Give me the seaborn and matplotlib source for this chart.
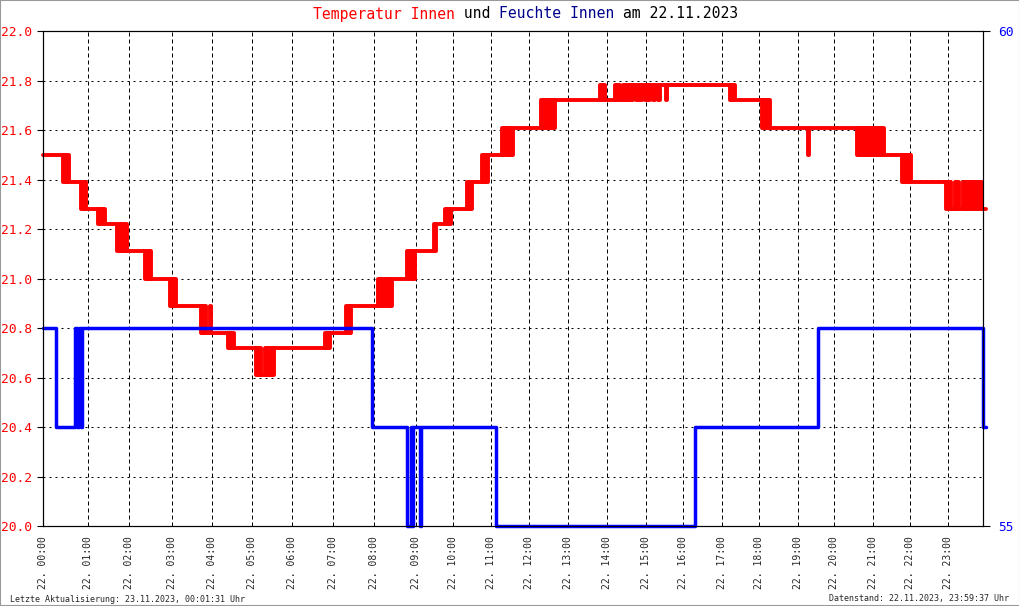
import matplotlib.pyplot as plt
import seaborn as sns
import numpy as np
import pandas as pd
from matplotlib.patches import Rectangle

# Messpunkt-Index (x) und Werte, Treppenfunktion (steps-post)
temp_idx = [0, 20, 21.5, 23, 24, 25.5,
            38, 39, 40.5, 41.5, 42.5,
            55, 56.5, 58, 60, 62,
            74, 76, 78, 79.5, 81, 83, 84,
            102, 104, 105.5, 107, 108,
            127, 129, 130.5, 132, 133,
            158, 159, 160.5, 161.5, 162.7, 167, 168.5,
            185, 186, 187.5, 189, 191,
            213, 214.5, 216, 217.5, 218.5, 222, 223, 225, 226.5, 228, 229.5, 231,
            282, 283.5, 285, 286, 287,
            303, 304.5, 306, 307, 308.5,
            335, 337, 339, 341, 343, 345, 347, 348.5, 349.5,
            364, 366, 368, 370, 372,
            391, 392, 393,
            402, 403.5, 405, 406.5, 408,
            424, 425.5, 427, 428, 429,
            439, 440.5, 442, 443.5, 445,
            459, 461, 463, 465, 467, 468.5, 470,
            498, 499.5, 501, 502.5, 503.5, 505, 507, 508.5, 509.5, 511, 512,
            557, 559, 560, 562,
            572, 573, 575, 577,
            580, 582, 583, 585, 587, 589, 590, 593, 595, 597, 599, 602, 604, 606,
            607, 610, 612, 615, 617, 623, 624.5,
            687, 688, 689.5, 690.5, 692,
            719, 720.5, 722, 723.5, 725, 726, 727,
            765, 766.5,
            814, 815.5, 817, 818.5, 820, 821, 823, 824.5, 826, 827.5, 829, 830,
            832, 834, 835.5, 837, 838.5, 840, 841,
            859, 860.5, 862, 863.5, 865, 866.5, 868,
            903, 904.5, 906, 907.5, 908.5, 912, 913, 914.5, 916, 920, 922, 923,
            925, 927, 929, 930.5, 932, 934, 936, 938, 939, 943]
temp_val = [21.50, 21.39, 21.50, 21.39, 21.50, 21.39,
            21.28, 21.39, 21.28, 21.39, 21.28,
            21.22, 21.28, 21.22, 21.28, 21.22,
            21.11, 21.22, 21.11, 21.22, 21.11, 21.22, 21.11,
            21.00, 21.11, 21.00, 21.11, 21.00,
            20.89, 21.00, 20.89, 21.00, 20.89,
            20.78, 20.89, 20.78, 20.89, 20.78, 20.89, 20.78,
            20.72, 20.78, 20.72, 20.78, 20.72,
            20.61, 20.72, 20.61, 20.72, 20.61, 20.72, 20.61, 20.72, 20.61, 20.72, 20.61, 20.72,
            20.78, 20.72, 20.78, 20.72, 20.78,
            20.89, 20.78, 20.89, 20.78, 20.89,
            21.00, 20.89, 21.00, 20.89, 21.00, 20.89, 21.00, 20.89, 21.00,
            21.11, 21.00, 21.11, 21.00, 21.11,
            21.22, 21.11, 21.22,
            21.28, 21.22, 21.28, 21.22, 21.28,
            21.39, 21.28, 21.39, 21.28, 21.39,
            21.50, 21.39, 21.50, 21.39, 21.50,
            21.61, 21.50, 21.61, 21.50, 21.61, 21.50, 21.61,
            21.72, 21.61, 21.72, 21.61, 21.72, 21.61, 21.72, 21.61, 21.72, 21.61, 21.72,
            21.78, 21.72, 21.78, 21.72,
            21.78, 21.72, 21.78, 21.72,
            21.78, 21.72, 21.78, 21.72, 21.78, 21.72, 21.78, 21.72, 21.78, 21.72, 21.78, 21.72, 21.78, 21.72,
            21.78, 21.72, 21.78, 21.72, 21.78, 21.72, 21.78,
            21.72, 21.78, 21.72, 21.78, 21.72,
            21.61, 21.72, 21.61, 21.72, 21.61, 21.72, 21.61,
            21.50, 21.61,
            21.50, 21.61, 21.50, 21.61, 21.50, 21.61, 21.50, 21.61, 21.50, 21.61, 21.50, 21.61,
            21.50, 21.61, 21.50, 21.61, 21.50, 21.61, 21.50,
            21.39, 21.50, 21.39, 21.50, 21.39, 21.50, 21.39,
            21.28, 21.39, 21.28, 21.39, 21.28, 21.39, 21.28, 21.39, 21.28, 21.39, 21.28, 21.39,
            21.28, 21.39, 21.28, 21.39, 21.28, 21.39, 21.28, 21.39, 21.28, 21.28]

hum_idx = [0, 13, 32, 34, 36, 37.5, 39,
           329, 364, 368, 369, 370.5, 377, 378.5,
           453, 652, 775, 940, 943]
hum_val = [57, 56, 57, 56, 57, 56, 57,
           56, 55, 56, 55, 56, 55, 56,
           55, 56, 57, 56, 56]

# Stundenmarken (Index des ersten Messpunkts jeder Stunde)
hour_idx = [0, 44.7, 86, 128.7, 169.3, 209.3, 249.3, 290.3, 331, 372.7, 410, 447.7,
            486, 525, 563.7, 602.7, 640, 678.7, 716, 754.7, 791, 829.7, 867, 904.7]
hour_labels = ['22. %02d:00' % h for h in range(24)]
n_points = 940

temp_df = pd.DataFrame({'idx': temp_idx, 'temp': temp_val})
hum_df = pd.DataFrame({'idx': hum_idx, 'hum': hum_val})

sns.set_style('white')
plt.rcParams['font.family'] = ['DejaVu Sans Mono']

W, H = 1020, 606
fig = plt.figure(figsize=(W / 100, H / 100), dpi=100)
ax = fig.add_axes([43 / W, 80 / H, 940 / W, 495 / H])
ax2 = ax.twinx()

sns.lineplot(data=temp_df, x='idx', y='temp', ax=ax, color='#FF0000', lw=2.8,
             drawstyle='steps-post', estimator=None, sort=False)
sns.lineplot(data=hum_df, x='idx', y='hum', ax=ax2, color='#0000FF', lw=2.5,
             drawstyle='steps-post', estimator=None, sort=False)
for a in (ax, ax2):
    for ln in a.lines:
        ln.set_clip_on(False)

ax.set_xlim(0, n_points)
ax.set_ylim(20, 22)
ax2.set_ylim(55, 60)
ax.set_yticks(np.arange(20, 22.01, 0.2))
ax.set_yticklabels(['%.1f' % v for v in np.arange(20, 22.01, 0.2)])
ax2.set_yticks([55, 60])
ax.set_xticks(hour_idx)
ax.set_xticklabels(hour_labels, rotation=90, fontsize=7)
ax.set_xlabel('')
ax.set_ylabel('')
ax2.set_ylabel('')

ax.tick_params(axis='y', direction='out', length=4, width=0.8, color='black',
               labelcolor='#FF0000', labelsize=9.3, pad=4)
ax.tick_params(axis='x', direction='out', length=3, width=0.8, color='black', pad=4)
ax2.tick_params(axis='y', direction='out', length=5, width=0.8, color='black',
                labelcolor='#0000FF', labelsize=9.3, pad=6)

ax.xaxis.grid(True, color='black', linestyle=(0, (4, 3)), lw=0.72)
ax.yaxis.grid(True, color='black', linestyle=(0, (2, 4)), lw=0.72)
ax.set_axisbelow(True)
for a in (ax, ax2):
    for s in a.spines.values():
        s.set_color('black')
        s.set_linewidth(0.8)

# Titel in mehreren Farben (Monospace-Schrift)
title_parts = [('Temperatur Innen', '#FF0000'), (' und ', 'black'),
               ('Feuchte Innen', '#00008B'), (' am 22.11.2023', 'black')]
title_size = 10.6
char_w = 0.602 * title_size * 100 / 72
x0 = 313
for txt, col in title_parts:
    fig.text(x0 / W, 1 - 14 / H, txt, color=col, fontsize=title_size,
             ha='left', va='center')
    x0 += len(txt) * char_w

fig.text(10 / W, 1 - 599 / H, 'Letzte Aktualisierung: 23.11.2023, 00:01:31 Uhr',
         fontsize=6, ha='left', va='center')
fig.text(1009 / W, 1 - 599 / H, 'Datenstand: 22.11.2023, 23:59:37 Uhr',
         fontsize=6, ha='right', va='center')

fig.patches.append(Rectangle((0, 0), 1, 1, transform=fig.transFigure, fill=False,
                             edgecolor='#999999', lw=1.5))

fig.savefig('out.png', dpi=100)
